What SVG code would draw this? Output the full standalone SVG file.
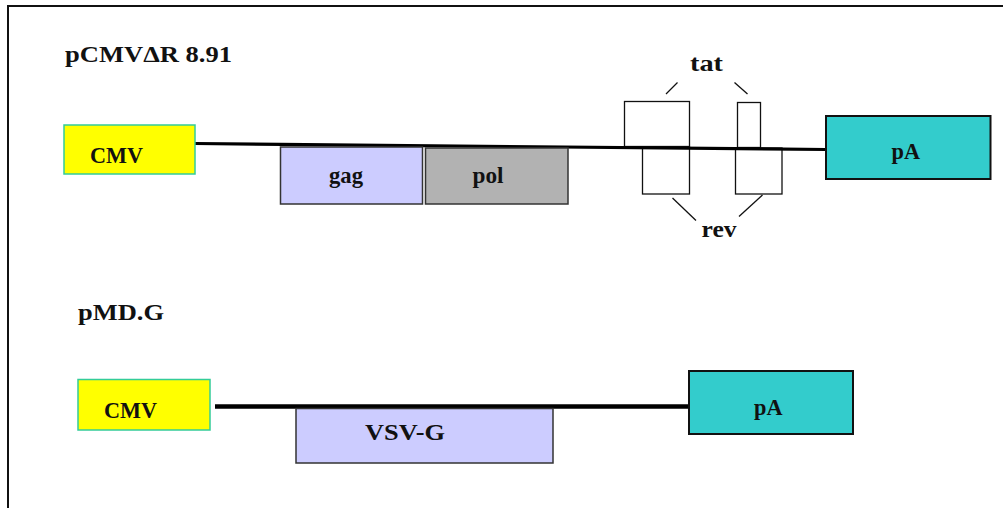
<svg xmlns="http://www.w3.org/2000/svg" width="1003" height="508" viewBox="0 0 1003 508">
  <style>
    text { font-family: "Liberation Serif", "Times New Roman", serif; font-weight: bold; fill: #111; }
    .lbl { font-size: 22.5px; }
    .cmv { fill: #FFFF00; stroke: #33CC99; stroke-width: 1.5; }
    .gag { fill: #CCCCFF; stroke: #333; stroke-width: 1.5; }
    .pol { fill: #B2B2B2; stroke: #333; stroke-width: 1.5; }
    .pa { fill: #33CCCC; stroke: #111; stroke-width: 2; }
    .exon { fill: #FFFFFF; stroke: #111; stroke-width: 1.3; }
    .tick { stroke: #111; stroke-width: 1.3; fill: none; }
  </style>

  <rect width="1003" height="508" fill="#FFFFFF"/>
  <!-- frame (left and top edges) -->
  <path d="M8,508 V6 H1003" fill="none" stroke="#111" stroke-width="2"/>

  <!-- plasmid titles -->
  <text class="lbl" x="65" y="62" textLength="167" lengthAdjust="spacingAndGlyphs">pCMVΔR 8.91</text>
  <text class="lbl" x="78" y="320" textLength="86" lengthAdjust="spacingAndGlyphs">pMD.G</text>

  <!-- tat / rev exons sit under the backbone line -->
  <g id="tat">
    <rect class="exon" x="624.5" y="101.5" width="65" height="45"/>
    <rect class="exon" x="737.5" y="102.5" width="23" height="45"/>
    <text class="lbl" x="690" y="70.5" textLength="33" lengthAdjust="spacingAndGlyphs">tat</text>
  </g>
  <g id="rev">
    <rect class="exon" x="642.5" y="147" width="47" height="47"/>
    <rect class="exon" x="735.5" y="148" width="46.5" height="46"/>
    <text class="lbl" x="701.5" y="236.5" textLength="35" lengthAdjust="spacingAndGlyphs">rev</text>
  </g>

  <!-- backbone lines -->
  <g id="connectors">
    <line x1="195" y1="143.5" x2="826" y2="149.5" stroke="#000" stroke-width="3.2"/>
    <line x1="215" y1="406.5" x2="689" y2="406.5" stroke="#000" stroke-width="4.5"/>
    <!-- tat / rev brackets -->
    <line class="tick" x1="666" y1="94" x2="677.5" y2="82.5"/>
    <line class="tick" x1="734.5" y1="82.5" x2="747.5" y2="94"/>
    <line class="tick" x1="672.5" y1="198" x2="696" y2="220.5"/>
    <line class="tick" x1="762.5" y1="195" x2="739" y2="216.5"/>
  </g>

  <!-- pCMVΔR 8.91 -->
  <g id="cmv1">
    <rect class="cmv" x="64" y="125" width="131" height="49"/>
    <text class="lbl" x="90" y="163" textLength="53" lengthAdjust="spacingAndGlyphs">CMV</text>
  </g>
  <g id="gag">
    <rect class="gag" x="280.5" y="147" width="142" height="57"/>
    <text class="lbl" x="329" y="183" textLength="34" lengthAdjust="spacingAndGlyphs">gag</text>
  </g>
  <g id="pol">
    <rect class="pol" x="425.5" y="148" width="142.5" height="56"/>
    <text class="lbl" x="472.5" y="183" textLength="31" lengthAdjust="spacingAndGlyphs">pol</text>
  </g>
  <g id="pa1">
    <rect class="pa" x="826" y="116" width="164.5" height="63"/>
    <text class="lbl" x="891.5" y="159" textLength="28.5" lengthAdjust="spacingAndGlyphs">pA</text>
  </g>

  <!-- pMD.G -->
  <g id="cmv2">
    <rect class="cmv" x="78" y="379.5" width="132" height="50.5"/>
    <text class="lbl" x="104" y="417.5" textLength="53" lengthAdjust="spacingAndGlyphs">CMV</text>
  </g>
  <g id="vsvg">
    <rect class="gag" x="296" y="408.5" width="257" height="54.5"/>
    <text class="lbl" x="365" y="440" textLength="80" lengthAdjust="spacingAndGlyphs">VSV-G</text>
  </g>
  <g id="pa2">
    <rect class="pa" x="689" y="371" width="164" height="63"/>
    <text class="lbl" x="754" y="415" textLength="28.5" lengthAdjust="spacingAndGlyphs">pA</text>
  </g>
</svg>
